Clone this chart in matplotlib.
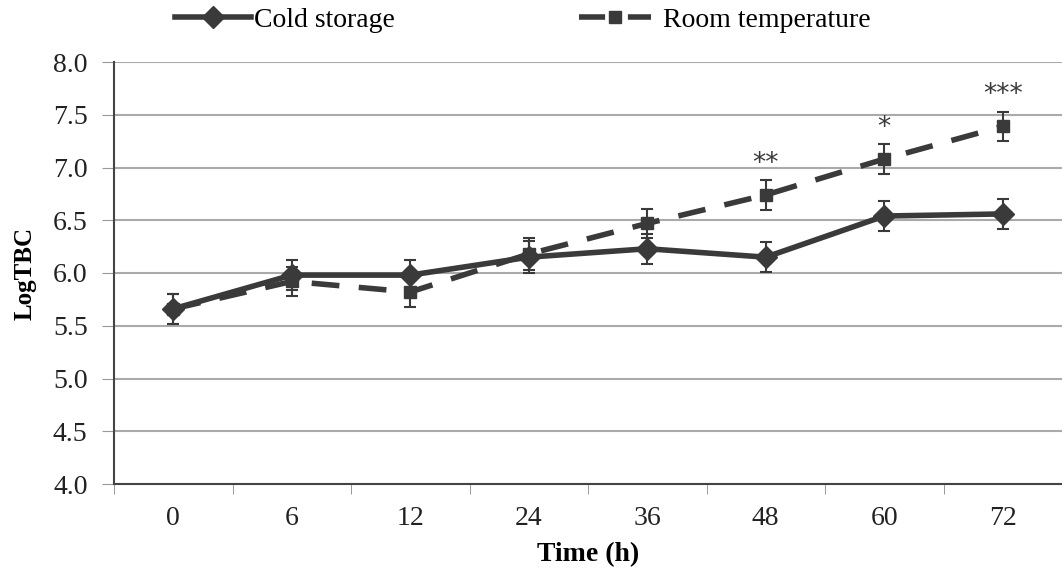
import matplotlib
matplotlib.use("Agg")
import matplotlib.pyplot as plt
from matplotlib.lines import Line2D

categories = ["0", "6", "12", "24", "36", "48", "60", "72"]
cold = [5.66, 5.98, 5.98, 6.15, 6.23, 6.15, 6.54, 6.56]
cold_err = [0.14, 0.14, 0.14, 0.15, 0.14, 0.14, 0.14, 0.14]
room = [5.66, 5.92, 5.82, 6.18, 6.47, 6.74, 7.08, 7.39]
room_err = [0.14, 0.14, 0.14, 0.15, 0.14, 0.14, 0.14, 0.14]
stars = {5: "**", 6: "*", 7: "***"}

plt.rcParams['font.family'] = ['Liberation Serif', 'DejaVu Serif']
col = "#3a3a3a"

fig = plt.figure(figsize=(10.62, 5.71), dpi=100)
ax = fig.add_axes([114/1062, 87/571, 1 - 114/1062, 422/571])
x = list(range(len(categories)))

dash = (0, (5, 3.5))
ax.errorbar(x, room, yerr=room_err, color=col, lw=4, ls=dash, marker='s', ms=8,
            capsize=4.5, elinewidth=1.5, capthick=1.5, ecolor=col, zorder=3)
ax.errorbar(x, cold, yerr=cold_err, color=col, lw=4, marker='D', ms=11.5,
            capsize=4.5, elinewidth=1.5, capthick=1.5, ecolor=col, zorder=4)

for i, s in stars.items():
    ax.text(i, room[i] + room_err[i] + 0.03, s, ha='center', va='bottom', fontsize=19,
            color=col, family='DejaVu Sans')

ax.set_ylim(4.0, 8.0)
ax.set_xlim(-0.5, 7.43)
yt = [4.0, 4.5, 5.0, 5.5, 6.0, 6.5, 7.0, 7.5, 8.0]
ax.set_yticks(yt)
ax.set_yticklabels([f"{v:.1f}" for v in yt])
ax.set_xticks(x)
ax.set_xticklabels(categories)
ax.set_xticks([i + 0.5 for i in range(-1, 8)], minor=True)
ax.tick_params(axis='x', which='major', length=0, labelsize=20, pad=16, colors='#222222')
ax.tick_params(axis='x', which='minor', length=7, color='#888888')
ax.tick_params(axis='y', length=9, color='#999999', labelsize=20, pad=10, labelcolor='#222222')
ax.grid(axis='y', color='#aaaaaa', lw=1.5)
ax.set_axisbelow(True)
for s in ['top', 'right']:
    ax.spines[s].set_visible(False)
ax.spines['left'].set_color('#444444')
ax.spines['left'].set_linewidth(1.5)
ax.spines['bottom'].set_color('#444444')
ax.spines['bottom'].set_linewidth(1.5)

ax.set_ylabel("LogTBC", fontsize=18, fontweight='bold', labelpad=12)
ax.set_xlabel("Time (h)", fontsize=20, fontweight='bold', labelpad=8)

h_cold = Line2D([], [], color=col, lw=4, marker='D', ms=11)
h_room = Line2D([], [], color=col, lw=4, ls=(0, (4.7, 4.1)), marker='s', ms=8)
fig.legend([h_cold], ["Cold storage"], loc='center left', bbox_to_anchor=(175/1062, 1 - 20/571),
           frameon=False, fontsize=20, handlelength=2.75, handletextpad=0.1,
           borderpad=0, borderaxespad=0)
fig.legend([h_room], ["Room temperature"], loc='center left', bbox_to_anchor=(579/1062, 1 - 20/571),
           frameon=False, fontsize=20, handlelength=2.6, handletextpad=0.43,
           borderpad=0, borderaxespad=0)

fig.savefig("out.png", dpi=100)
